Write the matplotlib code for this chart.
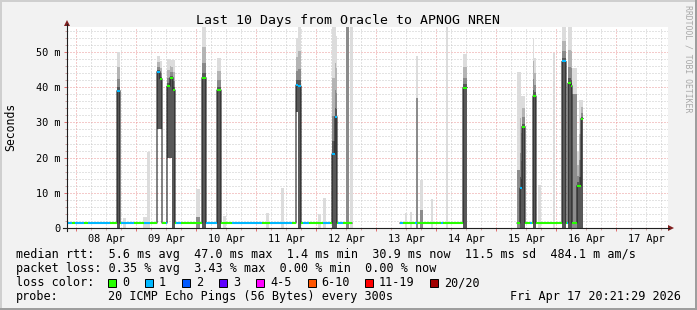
import matplotlib
matplotlib.use('Agg')
import matplotlib.pyplot as plt
from matplotlib.patches import Rectangle, Polygon
from matplotlib.lines import Line2D
from matplotlib.collections import LineCollection
import numpy as np

# time axis: days since 08 Apr 00:00, one column = 24 min
BIN = 1 / 60
t_start, t_end = -0.15, 9.85
day_labels = ['08 Apr', '09 Apr', '10 Apr', '11 Apr', '12 Apr',
              '13 Apr', '14 Apr', '15 Apr', '16 Apr', '17 Apr']
y_ticks = [0, 10, 20, 30, 40, 50]
y_labels = ['0', '10 m', '20 m', '30 m', '40 m', '50 m']

# quiet median rtt (ms) and the stretches where the host answered
base_rtt = 1.4
online_from = [-0.15, 5.40, 7.35]
online_to = [4.60, 6.517, 8.45]

# quiet stretches with 1/20 lost pings
loss1_from = [-0.15, -0.017, 0.20, 0.75, 1.133, 1.50, 1.667, 2.167, 2.60, 3.233, 3.783, 4.117, 4.367, 5.40, 5.65, 6.083, 7.567, 8.10, 8.183]
loss1_to = [-0.067, 0.133, 0.567, 0.967, 1.233, 1.517, 1.75, 2.35, 3.10, 3.60, 3.883, 4.233, 4.45, 5.45, 5.683, 6.117, 7.60, 8.133, 8.217]

# spikes: first column, then per column median / max ping / min ping (ms) and lost pings
spike_start = [0.683, 1.35, 1.517, 2.10, 2.35, 3.667, 4.267, 6.45, 7.40, 7.617, 8.10, 8.20, 8.35]
spike_rtt = [
    [39.0, 39.0, 39.0],
    [44.4, 44.4, 44.4, 42.4, 42.4],
    [40.3, 40.3, 40.3, 42.7, 42.7, 42.7, 39.2, 39.2],
    [42.7, 42.7, 42.7, 42.7],
    [39.2, 39.2, 39.2, 39.2],
    [40.6, 40.6, 40.3, 40.3, 40.3],
    [21.0, 21.0, 21.0, 31.6, 31.6],
    [39.9, 39.9, 39.9, 39.9],
    [11.3, 11.3, 28.8, 28.8, 28.8],
    [37.5, 37.5, 37.5],
    [47.3, 47.3, 47.3, 47.3],
    [41.1, 41.1, 41.1, 40.4],
    [12.0, 12.0, 12.0, 12.0, 31.1, 31.1],
]
spike_top = [
    [50.0, 50.0, 50.0],
    [49.0, 49.0, 49.0, 47.5, 47.5],
    [48.0, 48.0, 48.0, 48.0, 47.7, 47.7, 47.7, 47.7],
    [57.0, 57.0, 57.0, 57.0],
    [48.3, 48.3, 48.3, 48.3],
    [54.0, 54.0, 57.0, 57.0, 57.0],
    [57.0, 57.0, 57.0, 57.0, 54.5],
    [49.4, 49.4, 49.4, 49.4],
    [44.4, 37.5, 37.5, 37.5, 37.5],
    [54.0, 48.3, 48.3],
    [57.0, 57.0, 57.0, 57.0],
    [57.0, 57.0, 57.0, 57.0],
    [21.7, 21.7, 36.4, 36.4, 36.4, 36.4],
]
spike_low = [
    [0, 0, 0],
    [28, 28, 28, 28, 28],
    [20, 20, 20, 20, 20, 0, 0, 0],
    [0, 0, 0, 0],
    [0, 0, 0, 0],
    [33, 33, 0, 0, 0],
    [0, 0, 0, 0, 0],
    [0, 0, 0, 0],
    [0, 0, 0, 0, 0],
    [0, 0, 0],
    [0, 0, 0, 0],
    [0, 0, 0, 0],
    [0, 0, 0, 0, 0, 0],
]
spike_loss = [
    [1, 1, 1],
    [1, 1, 1, 0, 0],
    [0, 0, 0, 0, 0, 0, 0, 0],
    [0, 0, 0, 0],
    [0, 0, 0, 0],
    [1, 1, 1, 1, 1],
    [1, 1, 1, 1, 1],
    [0, 0, 0, 0],
    [1, 1, 0, 0, 0],
    [0, 0, 0],
    [1, 1, 1, 1],
    [0, 0, 0, 0],
    [0, 0, 0, 0, 0, 0],
]

# smoke while the median stayed quiet: start, columns, max ping, dense part (ms)
ghost_start = [0.783, 1.117, 1.183, 2.00, 2.45, 3.167, 3.417, 4.033, 4.117, 4.5, 4.567,
               5.483, 5.567, 5.667, 5.733, 5.917, 6.167, 7.35, 7.70, 7.95, 8.267]
ghost_cols = [3, 4, 3, 4, 3, 3, 3, 3, 3, 3, 3, 2, 2, 2, 3, 2, 2, 3, 3, 2, 5]
ghost_top = [2.9, 3.2, 21.7, 11.0, 3.4, 4.3, 11.4, 4.0, 8.6, 57.0, 57.0,
             4.3, 4.6, 49.0, 13.6, 8.2, 57.0, 44.4, 12.2, 49.6, 45.4]
ghost_dense = [0, 0, 0, 3.0, 0, 0, 0, 0, 0, 57.0, 0,
               0, 0, 37.0, 5.0, 0, 0, 16.5, 0, 0, 38.0]

loss_labels = ['0', '1', '2', '3', '4-5', '6-10', '11-19', '20/20']
loss_colors = ['#26ff00', '#00b8ff', '#0059ff', '#5e00ff', '#ff00ff', '#ff5500', '#ff0000', '#a10000']

stats_rtt = ['5.6 ms avg', '47.0 ms max', '1.4 ms min', '30.9 ms now', '11.5 ms sd', '484.1 m am/s']
stats_loss = ['0.35 % avg', '3.43 % max', '0.00 % min', '0.00 % now']

W, H = 697, 310
MONO = 'DejaVu Sans Mono'


def fx(x):
    return x / W


def fy(y):
    return 1 - y / H


fig = plt.figure(figsize=(W / 100, H / 100), dpi=100, facecolor='#f2f2f2')
ax = fig.add_axes([fx(67), fy(228), (668 - 67) / W, (228 - 27) / H])
ax.set_facecolor('white')
ax.set_xlim(t_start, t_end + BIN)
ax.set_ylim(0, 57.1)
for s in ax.spines.values():
    s.set_visible(False)

# grid
ax.set_xticks(np.arange(0, 10))
ax.set_xticks(np.arange(-0.0, 9.9, 0.25), minor=True)
ax.set_xticklabels([])
ax.set_yticks(y_ticks)
ax.set_yticks(np.arange(0, 57, 2), minor=True)
ax.set_yticklabels(y_labels, fontfamily=MONO, fontsize=7.4)
ax.grid(which='minor', color='#c8c8c8', linestyle=(0, (1, 2)), linewidth=0.72)
ax.grid(which='major', color='#eb9696', linestyle=(0, (1, 2)), linewidth=0.72)
ax.set_axisbelow(True)
ax.tick_params(which='major', length=2.2, width=0.72, color='#e07070', pad=2.5)
ax.tick_params(which='minor', length=1.5, width=0.72, color='#d0a0a0')
ax.tick_params(axis='x', which='both', labelbottom=False)

# per column series
n = int(round((t_end + BIN - t_start) / BIN))
edges = t_start + np.arange(n + 1) * BIN
rtt = np.full(n, np.nan)
loss = np.zeros(n, dtype=int)
top = np.full(n, np.nan)
low = np.full(n, np.nan)


def col(d):
    return int(round((d - t_start) / BIN))


for a, b in zip(online_from, online_to):
    rtt[col(a):col(b)] = base_rtt
for a, b in zip(loss1_from, loss1_to):
    loss[col(a):col(b)] = 1
for s, r, tp, lo, ls in zip(spike_start, spike_rtt, spike_top, spike_low, spike_loss):
    i = col(s)
    k = len(r)
    rtt[i:i + k] = r
    top[i:i + k] = tp
    low[i:i + k] = lo
    loss[i:i + k] = ls

# smoke under quiet median
for s, k, tp, dn in zip(ghost_start, ghost_cols, ghost_top, ghost_dense):
    i = col(s)
    xs = edges[i:i + k]
    ax.bar(xs, [tp] * k, width=BIN, align='edge', color='#dcdcdc', linewidth=0, zorder=2)
    if dn > 0:
        ax.bar(xs, [dn] * k, width=BIN, align='edge', color='#8c8c8c', linewidth=0, zorder=2)

# smoke of the spikes
m = ~np.isnan(top)
xs = edges[:-1][m]
for frac, shade in [(1.0, '#dcdcdc'), (0.6, '#b4b4b4'), (0.3, '#8a8a8a'), (0.1, '#585858')]:
    hi = rtt[m] + frac * (top[m] - rtt[m])
    ax.bar(xs, hi - low[m], bottom=low[m], width=BIN, align='edge', color=shade,
           linewidth=0, zorder=3)

# median: dark step line, loss-coloured on top
sx = np.repeat(edges, 2)[1:-1]
sy = np.repeat(rtt, 2)
ax.plot(sx, sy, color='#202020', linewidth=0.8, zorder=4)
segs, cols = [], []
for i in range(n):
    if not np.isnan(rtt[i]):
        segs.append([(edges[i], rtt[i]), (edges[i + 1], rtt[i])])
        cols.append(loss_colors[loss[i]])
ax.add_collection(LineCollection(segs, colors=cols, linewidths=1.5, capstyle='butt', zorder=5))

# day labels centred at noon
for d, lab in enumerate(day_labels):
    ax.text(d + 0.5, -14 * 57.1 / 201, lab, ha='center', va='baseline',
            fontfamily=MONO, fontsize=7.4, clip_on=False)

# axes lines and arrows
fig.add_artist(Line2D([fx(63), fx(669)], [fy(228), fy(228)], color='#1f1f1f', linewidth=0.8))
fig.add_artist(Line2D([fx(67), fx(67)], [fy(231), fy(24)], color='#1f1f1f', linewidth=0.8))
fig.add_artist(Polygon([(fx(668), fy(225)), (fx(668), fy(231)), (fx(674), fy(228))],
                       closed=True, color='#801f1f', linewidth=0))
fig.add_artist(Polygon([(fx(64), fy(26)), (fx(70), fy(26)), (fx(67), fy(20))],
                       closed=True, color='#801f1f', linewidth=0))

# title and labels
fig.text(fx(348), fy(24), 'Last 10 Days from Oracle to APNOG NREN', ha='center', va='baseline',
         fontfamily=MONO, fontsize=9.5)
fig.text(fx(11), fy(127), 'Seconds', rotation=90, ha='center', va='center',
         fontfamily=MONO, fontsize=8.3)
fig.text(fx(688), fy(59), 'RRDTOOL / TOBI OETIKER', rotation=270, ha='center', va='center',
         fontfamily=MONO, fontsize=5.9, color='#a8a8a8')

# legend rows
fs = 8.5
fig.text(fx(16), fy(258), 'median rtt:  ' + '  '.join(stats_rtt), fontfamily=MONO, fontsize=fs, va='baseline')
fig.text(fx(16), fy(272), 'packet loss: ' + '  '.join(stats_loss), fontfamily=MONO, fontsize=fs, va='baseline')
fig.text(fx(16), fy(286), 'loss color:', fontfamily=MONO, fontsize=fs, va='baseline')
sq_x = [108, 145, 182, 219, 256, 307.5, 365, 430]
for x, lab, c in zip(sq_x, loss_labels, loss_colors):
    fig.add_artist(Rectangle((fx(x), fy(286.5)), 8 / W, 8 / H, facecolor=c, edgecolor='black', linewidth=0.7))
    fig.text(fx(x + 14), fy(286), lab, fontfamily=MONO, fontsize=fs, va='baseline')
fig.text(fx(16), fy(300), 'probe:', fontfamily=MONO, fontsize=fs, va='baseline')
fig.text(fx(107.5), fy(300), '20 ICMP Echo Pings (56 Bytes) every 300s', fontfamily=MONO, fontsize=fs, va='baseline')
fig.text(fx(681), fy(300), 'Fri Apr 17 20:21:29 2026', fontfamily=MONO, fontsize=fs, va='baseline', ha='right')

# 3d frame
fig.add_artist(Rectangle((0, fy(2)), 1, 2 / H, color='#cfcfcf', linewidth=0))
fig.add_artist(Rectangle((0, 0), 2 / W, 1, color='#cfcfcf', linewidth=0))
fig.add_artist(Rectangle((0, 0), 1, 2 / H, color='#9e9e9e', linewidth=0))
fig.add_artist(Rectangle((fx(695), 0), 2 / W, 1, color='#9e9e9e', linewidth=0))

fig.savefig('out.png', dpi=100, facecolor=fig.get_facecolor())
